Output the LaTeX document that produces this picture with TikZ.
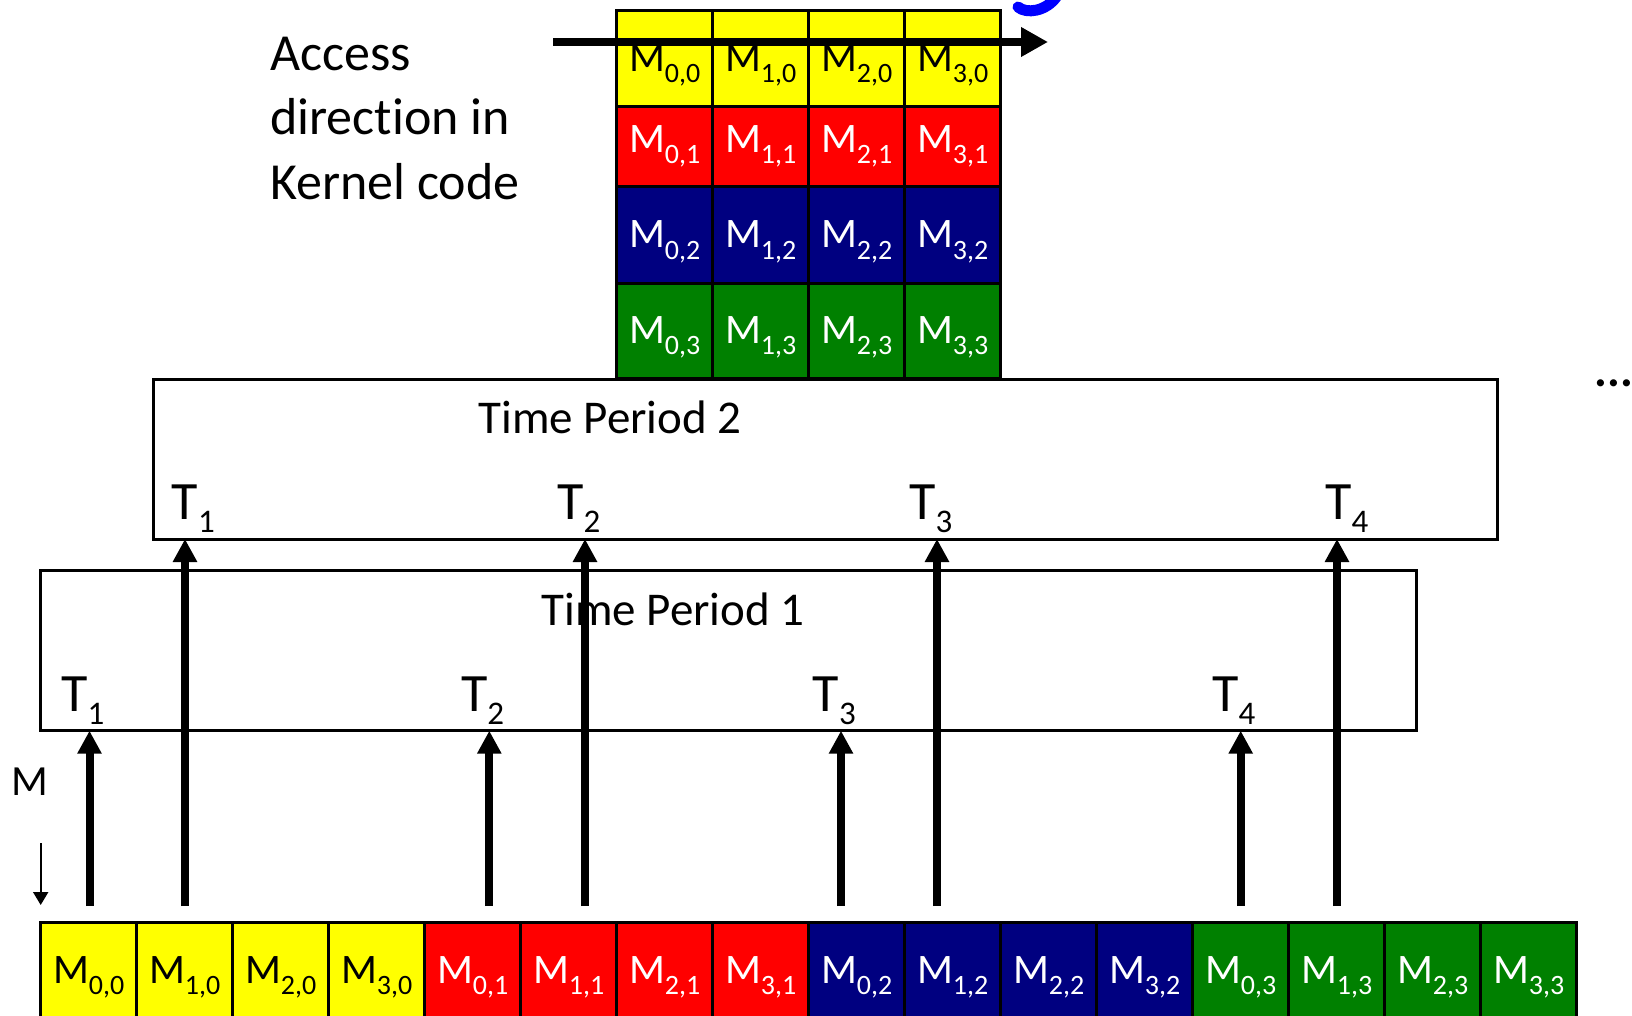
\documentclass[tikz,border=0pt]{standalone}
\usepackage{fontspec}
\setmainfont[Ligatures=NoCommon]{Carlito}
\usetikzlibrary{arrows.meta}
\definecolor{cellyellow}{RGB}{255,255,0}
\definecolor{cellred}{RGB}{255,0,0}
\definecolor{cellnavy}{RGB}{0,0,128}
\definecolor{cellgreen}{RGB}{0,128,0}
\newcommand{\mcell}[2]{M\raisebox{-11pt}{\fontsize{28}{28}\selectfont #1,#2}}
\newcommand{\tname}[1]{T\raisebox{-13pt}{\fontsize{33}{33}\selectfont #1}}
\tikzstyle{cell} = [rectangle, minimum width=96pt, minimum height=96pt, inner sep=0pt, outer sep=0pt, draw=black, line width=3pt, text centered, font=\fontsize{42}{50}\selectfont, text height=26pt, text depth=0pt]
\tikzstyle{period} = [rectangle, draw=black, line width=3pt, inner sep=0pt, outer sep=0pt]
\tikzstyle{ptext} = [anchor=base, inner sep=0pt, font=\fontsize{47}{56}\selectfont]
\tikzstyle{tlab} = [anchor=base west, inner sep=0pt, font=\fontsize{54}{64}\selectfont]
\tikzstyle{note} = [anchor=base west, inner sep=0pt, font=\fontsize{52}{64}\selectfont]
\tikzstyle{thread} = [line width=8pt, -{Triangle[length=23pt,width=23pt]}]

\begin{document}
\begin{tikzpicture}[x=1pt, y=-1pt]
    \useasboundingbox (0,0) rectangle (1632,1016);
    % time periods
    \node (tp2) [period, minimum width=1344pt, minimum height=160pt] at (825,459) {};
    \node (tp1) [period, minimum width=1376pt, minimum height=160pt] at (728.7,650.7) {};
    \node (tp2txt) [ptext] at (610,433) {Time Period 2};
    \node (tp1txt) [ptext] at (673,625) {Time Period 1};
    % matrix as seen by the kernel
    \foreach \j/\yc/\h/\td/\bg/\fg in {0/59/96/0/cellyellow/black, 1/147/80/14/cellred/white, 2/235/96/0/cellnavy/white, 3/330.5/95/0/cellgreen/white}
        \foreach \k in {0,...,3}
            \node (g\k\j) [cell, fill=\bg, text=\fg, minimum height=\h pt, text depth=\td pt] at (664.7+96*\k,\yc) {\mcell{\k}{\j}};
    % matrix in memory
    \foreach \j/\bg/\fg in {0/cellyellow/black, 1/cellred/white, 2/cellnavy/white, 3/cellgreen/white}
        \foreach \k in {0,...,3}
            \node (m\k\j) [cell, fill=\bg, text=\fg] at (88.7+384*\j+96*\k,970.7) {\mcell{\k}{\j}};
    % threads, period 1
    \foreach \n/\x in {1/89.5, 2/489.3, 3/841, 4/1240.7} {
        \coordinate (p\n) at (\x,906);
        \draw [thread] (p\n) -- (p\n |- tp1.south);
        \node (pl\n) [tlab] at (\x-28.5,711) {\tname{\n}};
    }
    % threads, period 2
    \foreach \n/\x/\lx in {1/185/171.7, 2/585/557, 3/937/909, 4/1337/1325} {
        \coordinate (q\n) at (\x,906);
        \draw [thread] (q\n) -- (q\n |- tp2.south);
        \node (ql\n) [tlab] at (\lx,519.5) {\tname{\n}};
    }
    % access direction
    \node (acc1) [note] at (270,70.7) {Access};
    \node (acc2) [note] at (270,135) {direction in};
    \node (acc3) [note] at (270,199.3) {Kernel code};
    \coordinate (dir0) at (553,42);
    \coordinate (dir1) at (1048,42);
    \draw [line width=8pt, -{Triangle[length=27pt,width=28pt]}] (dir0) -- (dir1);
    % memory order
    \node (mlab) [anchor=base west, inner sep=0pt, font=\fontsize{43}{50}\selectfont] at (11,795) {M};
    \coordinate (md0) at (40.7,843);
    \coordinate (md1) at (40.7,905);
    \draw [line width=2pt, -{Triangle[length=13pt,width=15pt]}] (md0) -- (md1);
    \node (more) [anchor=base, inner sep=0pt, font=\fontsize{48}{56}\selectfont\bfseries] at (1614,386) {...};
    \draw [blue, line width=11pt, line cap=round] (1018,7) .. controls (1026,14) and (1046,12) .. (1057,-4);
\end{tikzpicture}
\end{document}
